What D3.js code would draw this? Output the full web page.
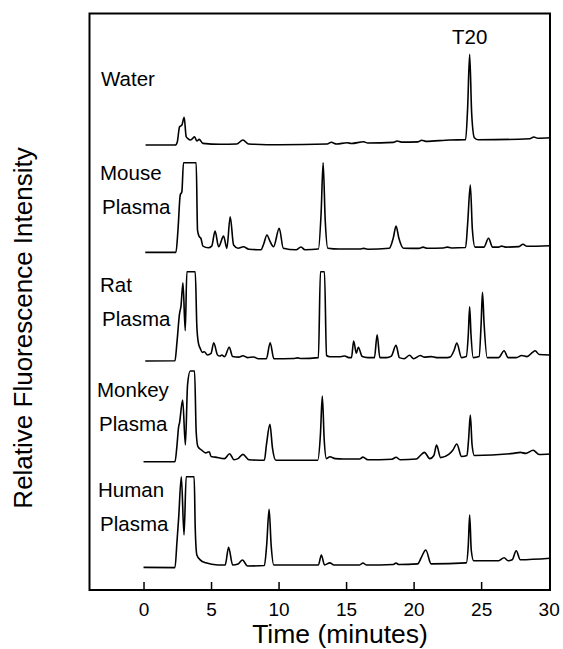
<!DOCTYPE html>
<html>
<head>
<meta charset="utf-8">
<script src="https://cdn.jsdelivr.net/npm/d3@7"></script>
<style>
  html, body { margin: 0; padding: 0; background: #fff; }
  svg { display: block; }
  text { font-family: "Liberation Sans", Arial, Helvetica, sans-serif; fill: #000; }
</style>
</head>
<body>
<svg id="chart" width="563" height="649"></svg>
<script>
// ---- data (time in minutes, relative fluorescence above each trace's own baseline) ----
const sampleNames = ["Water", "Mouse Plasma", "Rat Plasma", "Monkey Plasma", "Human Plasma"];
const xTicks = [0, 5, 10, 15, 20, 25, 30];
const peakLabel = { text: "T20", time: 24.15 };

const water = [
[0.15,0],[2.35,0],[2.5,0.03],[2.67,0.174],[2.84,0.19],[3.01,0.263],[3.16,0.079],[3.3,0.06],[3.46,0.048],[3.62,0.06],[3.78,0.079],[3.95,0.038],[4.12,0.054],[4.4,0.016],[5.68,0.007],[6.9,0.01],[7.36,0.048],[7.78,0.01],[10.1,0.003],[13.6,0.01],[13.9,0.026],[14.3,0.01],[15.07,0.022],[15.4,0.015],[16.3,0.031],[16.6,0.02],[18.5,0.025],[18.77,0.038],[19.1,0.028],[20.3,0.03],[20.6,0.045],[20.9,0.035],[22.7,0.048],[23.85,0.05],[24.0,0.35],[24.15,0.862],[24.3,0.3],[24.5,0.07],[24.8,0.05],[28.6,0.06],[28.9,0.076],[29.2,0.065],[30.1,0.069]
];
const mouse = [
[0.13,-0.02],[2.4,-0.02],[2.55,0.19],[2.72,0.525],[2.84,0.556],[2.96,0.832],[3.9,0.832],[4.0,0.19],[4.13,0.129],[4.25,0.113],[4.4,0.04],[4.8,0.024],[5.05,0.04],[5.3,0.183],[5.56,0.034],[5.93,0.135],[6.17,0.018],[6.42,0.319],[6.67,0.05],[7.0,0.02],[7.4,0.034],[7.8,0.01],[8.7,0.005],[8.9,0.06],[9.14,0.145],[9.35,0.09],[9.63,0.034],[10.05,0.209],[10.35,0.02],[11.3,0.005],[11.66,0.031],[11.95,0.005],[12.95,0.012],[13.15,0.35],[13.3,0.832],[13.45,0.3],[13.65,0.02],[14.5,0.012],[16.0,0.012],[16.3,0.018],[16.6,0.01],[18.2,0.02],[18.5,0.12],[18.7,0.23],[18.9,0.12],[19.25,0.02],[20.4,0.018],[20.7,0.03],[21.0,0.02],[22.2,0.022],[22.5,0.03],[22.8,0.022],[23.85,0.026],[24.0,0.25],[24.2,0.62],[24.35,0.2],[24.55,0.03],[25.2,0.03],[25.55,0.114],[25.85,0.03],[26.3,0.03],[26.5,0.04],[26.8,0.03],[27.8,0.035],[28.1,0.057],[28.4,0.038],[30.1,0.043]
];
const rat = [
[0.13,-0.052],[2.33,-0.05],[2.47,0.116],[2.67,0.4],[2.77,0.464],[2.92,0.69],[3.09,0.236],[3.21,0.796],[3.83,0.796],[3.95,0.274],[4.07,0.116],[4.2,0.068],[4.35,0.03],[4.5,0.036],[4.74,0.005],[5.0,0.02],[5.2,0.122],[5.48,0.005],[5.65,-0.005],[5.8,0.005],[6.0,-0.01],[6.35,0.078],[6.6,-0.01],[7.05,-0.015],[7.36,-0.002],[7.7,-0.02],[8.15,-0.014],[8.5,-0.03],[9.1,-0.03],[9.38,0.122],[9.65,-0.03],[11.1,-0.028],[11.4,-0.022],[11.7,-0.028],[12.95,-0.02],[13.1,0.796],[13.4,0.796],[13.55,0.0],[13.8,-0.011],[14.6,-0.011],[14.9,-0.004],[15.2,-0.02],[15.4,-0.02],[15.56,0.138],[15.76,0.021],[15.9,0.078],[16.2,-0.01],[16.6,-0.02],[17.1,-0.02],[17.3,0.198],[17.5,-0.02],[18.0,-0.02],[18.35,-0.005],[18.7,0.097],[18.95,-0.02],[19.3,-0.03],[19.7,0.002],[20.0,-0.03],[20.5,0.0],[20.8,-0.015],[21.3,-0.01],[21.7,-0.02],[22.3,-0.02],[22.7,-0.015],[23.0,0.05],[23.2,0.119],[23.55,-0.02],[23.9,-0.01],[24.05,0.2],[24.15,0.464],[24.25,0.2],[24.42,-0.02],[24.85,-0.01],[25.0,0.3],[25.1,0.6],[25.22,0.3],[25.45,-0.02],[26.3,-0.02],[26.7,0.045],[27.0,-0.02],[27.6,-0.02],[28.0,0.0],[28.4,-0.01],[28.8,0.03],[29.0,0.045],[29.3,0.01],[30.1,0.005]
];
const monkey = [
[0.0,-0.01],[2.33,-0.01],[2.47,0.134],[2.6,0.323],[2.66,0.356],[2.9,0.577],[3.1,0.15],[3.26,0.72],[3.46,0.853],[3.78,0.853],[3.9,0.276],[4.03,0.134],[4.3,0.102],[4.6,0.075],[4.87,0.086],[5.0,0.04],[5.3,0.035],[6.0,0.02],[6.37,0.067],[6.7,0.01],[7.0,0.02],[7.36,0.061],[7.8,0.01],[8.95,0.005],[9.1,0.15],[9.36,0.346],[9.55,0.12],[9.8,0.005],[12.9,0.005],[13.1,0.25],[13.24,0.615],[13.38,0.2],[13.55,0.02],[13.8,0.038],[14.2,0.02],[14.8,0.017],[16.0,0.017],[16.25,0.035],[16.6,0.01],[18.4,0.015],[18.7,0.033],[19.0,0.01],[20.2,0.017],[20.5,0.05],[20.8,0.08],[21.2,0.02],[21.5,0.05],[21.7,0.149],[22.0,0.03],[22.6,0.06],[22.9,0.1],[23.2,0.159],[23.55,0.04],[23.95,0.05],[24.07,0.2],[24.2,0.435],[24.33,0.15],[24.5,0.05],[27.4,0.07],[27.9,0.08],[28.3,0.07],[28.85,0.1],[29.3,0.06],[30.1,0.064]
];
const human = [
[0.0,-0.013],[2.33,-0.015],[2.47,0.216],[2.6,0.453],[2.8,0.848],[3.0,0.295],[3.16,0.848],[3.75,0.848],[3.83,0.358],[3.95,0.105],[4.2,0.058],[4.6,0.03],[5.5,0.01],[6.05,0.01],[6.3,0.178],[6.6,0.01],[7.0,0.02],[7.33,0.057],[7.7,0.0],[8.95,0.005],[9.12,0.2],[9.3,0.539],[9.45,0.2],[9.65,0.01],[12.95,0.01],[13.17,0.105],[13.4,0.01],[13.8,0.03],[14.1,0.01],[16.0,0.01],[16.25,0.028],[16.5,0.01],[18.5,0.015],[18.7,0.028],[18.9,0.015],[20.3,0.02],[20.6,0.09],[20.9,0.152],[21.3,0.02],[23.9,0.03],[24.05,0.2],[24.15,0.485],[24.27,0.15],[24.45,0.05],[26.3,0.05],[26.7,0.079],[27.0,0.05],[27.3,0.06],[27.6,0.145],[27.9,0.06],[30.1,0.074]
];
const traces = [water, mouse, rat, monkey, human];

// ---- layout ----
const frame = { left: 89.5, right: 550, top: 13.5, bottom: 590 };
const svg = d3.select("#chart");

const x = d3.scaleLinear().domain([-4, 30.1]).range([frame.left, frame.right]);
const y = d3.scaleLinear().domain([-0.228, 5.25]).range([frame.bottom, frame.top]);

// stacking offsets: water on top, human at bottom
const offsets = [4, 3, 2, 1, 0];
const labelLift = [0.56, 0.667, 0.606, 0.609, 0.653];
const labelX = [101, 100, 100, 97, 98];

svg.append("clipPath").attr("id", "clip").append("rect")
  .attr("x", frame.left).attr("y", frame.top)
  .attr("width", frame.right - frame.left).attr("height", frame.bottom - frame.top);

const g = svg.append("g").attr("clip-path", "url(#clip)");

traces.forEach((tr, i) => {
  const line = d3.line()
    .x(d => x(d[0]))
    .y(d => y(offsets[i] + d[1]))
    .curve(d3.curveMonotoneX);
  g.append("path")
    .datum(tr)
    .attr("d", line)
    .attr("fill", "none")
    .attr("stroke", "#000")
    .attr("stroke-width", 1.6)
    .attr("stroke-linejoin", "round");
});

// sample labels
sampleNames.forEach((name, i) => {
  const parts = name.split(" ");
  const base = y(offsets[i] + labelLift[i]);
  parts.forEach((p, j) => {
    svg.append("text")
      .attr("x", labelX[i] + (j > 0 ? 2 : 0))
      .attr("y", base + j * 34)
      .attr("font-size", 20.5)
      .text(p);
  });
});

// T20 label
svg.append("text")
  .attr("x", x(peakLabel.time))
  .attr("y", 43.5)
  .attr("text-anchor", "middle")
  .attr("font-size", 20.5)
  .text(peakLabel.text);

// frame
svg.append("rect")
  .attr("x", frame.left).attr("y", frame.top)
  .attr("width", frame.right - frame.left).attr("height", frame.bottom - frame.top)
  .attr("fill", "none").attr("stroke", "#000").attr("stroke-width", 2);

// x axis (ticks pointing inward)
const axis = d3.axisBottom(x).tickValues(xTicks).tickSizeInner(-8).tickSizeOuter(0).tickPadding(14)
  .tickFormat(d3.format("d"));
const ax = svg.append("g").attr("transform", `translate(0,${frame.bottom})`).call(axis);
ax.select(".domain").remove();
ax.selectAll(".tick line").attr("stroke", "#000").attr("stroke-width", 1.5)
  .attr("display", d => d === 30 ? "none" : null);
ax.selectAll(".tick text")
  .attr("font-family", '"Liberation Sans", Arial, sans-serif')
  .attr("font-size", 19).attr("fill", "#000")
  .attr("dy", null).attr("y", 26);

// axis titles
svg.append("text")
  .attr("x", 340).attr("y", 643)
  .attr("text-anchor", "middle")
  .attr("font-size", 26.5)
  .text("Time (minutes)");

svg.append("text")
  .attr("transform", "translate(32,328) rotate(-90)")
  .attr("text-anchor", "middle")
  .attr("font-size", 26)
  .text("Relative Fluorescence Intensity");
</script>
</body>
</html>
